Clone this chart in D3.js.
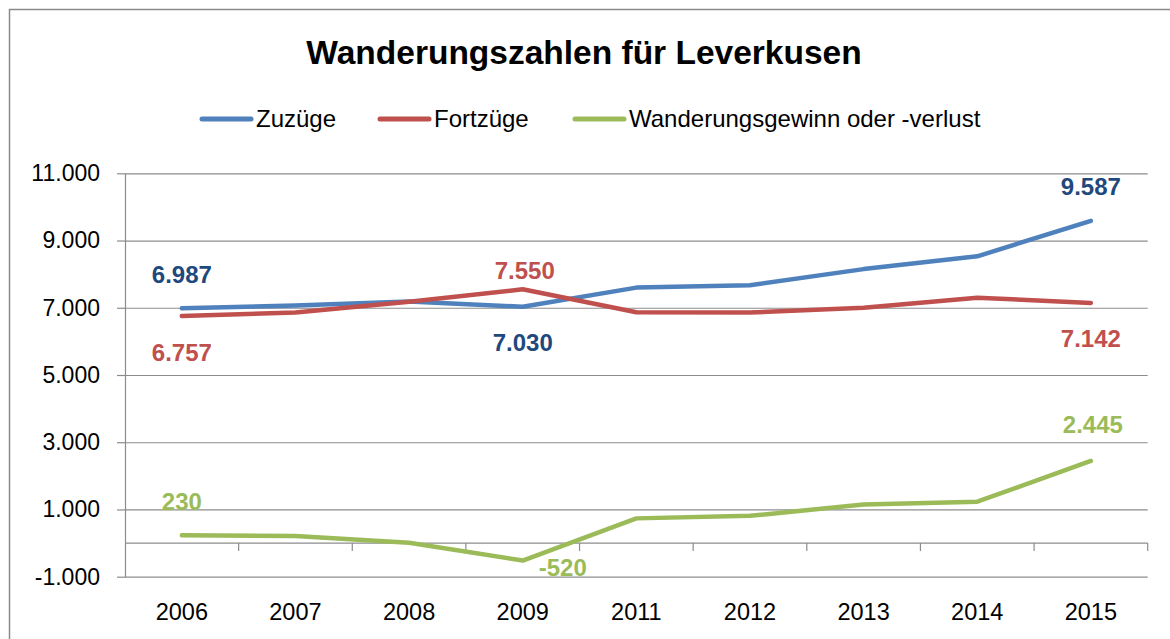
<!DOCTYPE html>
<html>
<head>
<meta charset="utf-8">
<script src="https://cdn.jsdelivr.net/npm/d3@7"></script>
<style>
  body { margin: 0; background: #fff; }
  svg { display: block; font-family: "Liberation Sans", Arial, sans-serif; }
</style>
</head>
<body>
<svg id="canvas"></svg>
<script>
const width = 1170;
const height = 639;

// Werte
const years = ['2006', '2007', '2008', '2009', '2011', '2012', '2013', '2014', '2015'];
const zuzuege = [6987, 7070, 7190, 7030, 7600, 7670, 8150, 8530, 9587];
const fortzuege = [6757, 6860, 7180, 7550, 6865, 6860, 7000, 7300, 7142];
const saldo = [230, 210, 10, -520, 735, 810, 1150, 1230, 2445];
const yTicks = [-1000, 1000, 3000, 5000, 7000, 9000, 11000];
const seriesNames = ['Zuzüge', 'Fortzüge', 'Wanderungsgewinn oder -verlust'];

const lineColors = ['#4F81BD', '#C0504D', '#9BBB59'];
const labelColors = ['#1F497D', '#C0504D', '#9BBB59'];

const de = d3.formatLocale({ decimal: ',', thousands: '.', grouping: [3], currency: ['', ' €'], minus: '-' });
const fmt = de.format(',d');

const svg = d3.select('#canvas').attr('width', width).attr('height', height);

// outer frame
svg.append('rect')
  .attr('x', 9.5).attr('y', 9.5)
  .attr('width', 1300).attr('height', 800)
  .attr('fill', 'none')
  .attr('stroke', '#8a8a8a')
  .attr('stroke-width', 1.5);

const left = 125;
const right = 1147.7;
const x = d3.scaleBand().domain(years).range([left, right]);
const y = d3.scaleLinear().domain([-1000, 11000]).range([576.7, 173.3]);
const cx = (d) => x(d) + x.bandwidth() / 2;

// gridlines
svg.append('g')
  .attr('transform', `translate(${left},0)`)
  .call(d3.axisLeft(y).tickValues(yTicks).tickSize(-(right - left)).tickFormat(''))
  .call((g) => g.select('.domain').remove())
  .call((g) => g.selectAll('line').attr('stroke', '#8c8c8c').attr('stroke-width', 1.2));

// y axis with labels
svg.append('g')
  .attr('transform', `translate(${left},0)`)
  .call(d3.axisLeft(y).tickValues(yTicks).tickSize(8).tickSizeOuter(0).tickPadding(17).tickFormat(fmt))
  .call((g) => g.select('.domain').attr('stroke', '#8c8c8c').attr('stroke-width', 1.2))
  .call((g) => g.selectAll('line').attr('stroke', '#8c8c8c').attr('stroke-width', 1.2))
  .call((g) => g.selectAll('text').attr('font-size', 23).attr('fill', '#000')
    .attr('font-family', '"Liberation Sans", Arial, sans-serif'));

// category axis at zero
const zeroY = y(0);
svg.append('line')
  .attr('x1', left).attr('x2', right)
  .attr('y1', zeroY).attr('y2', zeroY)
  .attr('stroke', '#8c8c8c').attr('stroke-width', 1.2);

const bounds = years.map((d) => x(d)).concat([right]);
svg.append('g').selectAll('line')
  .data(bounds.slice(1))
  .enter()
  .append('line')
  .attr('x1', (d) => d).attr('x2', (d) => d)
  .attr('y1', zeroY).attr('y2', zeroY + 8)
  .attr('stroke', '#8c8c8c').attr('stroke-width', 1.2);

// category labels below the plot
svg.append('g').selectAll('text')
  .data(years)
  .enter()
  .append('text')
  .attr('x', (d) => cx(d))
  .attr('y', 620)
  .attr('text-anchor', 'middle')
  .attr('font-size', 23.5)
  .text((d) => d);

// lines
const allSeries = [zuzuege, fortzuege, saldo];
const line = d3.line()
  .x((d, i) => cx(years[i]))
  .y((d) => y(d));

svg.append('g').selectAll('path')
  .data(allSeries)
  .enter()
  .append('path')
  .attr('d', (d) => line(d))
  .attr('fill', 'none')
  .attr('stroke', (d, i) => lineColors[i])
  .attr('stroke-width', 4.5)
  .attr('stroke-linejoin', 'round')
  .attr('stroke-linecap', 'round');

// data labels (only the ones shown in the original)
const labelSpots = [
  { s: 0, i: 0, dx: 0, dy: -34 },
  { s: 1, i: 0, dx: 0, dy: 36 },
  { s: 1, i: 3, dx: 2, dy: -19 },
  { s: 0, i: 3, dx: 0, dy: 36 },
  { s: 0, i: 8, dx: 0, dy: -34 },
  { s: 1, i: 8, dx: 0, dy: 35 },
  { s: 2, i: 0, dx: 0, dy: -34 },
  { s: 2, i: 3, dx: 40, dy: 7 },
  { s: 2, i: 8, dx: 2, dy: -37 },
];

svg.append('g').selectAll('text')
  .data(labelSpots)
  .enter()
  .append('text')
  .attr('x', (d) => cx(years[d.i]) + d.dx)
  .attr('y', (d) => y(allSeries[d.s][d.i]) + d.dy)
  .attr('dy', '0.36em')
  .attr('text-anchor', 'middle')
  .attr('font-size', 24)
  .attr('font-weight', 'bold')
  .attr('fill', (d) => labelColors[d.s])
  .text((d) => fmt(allSeries[d.s][d.i]));

// title
svg.append('text')
  .attr('x', 584)
  .attr('y', 64)
  .attr('text-anchor', 'middle')
  .attr('font-size', 33.5)
  .attr('font-weight', 'bold')
  .text('Wanderungszahlen für Leverkusen');

// legend
const legendX = [200, 378, 573];
const legend = svg.append('g');
seriesNames.forEach((name, i) => {
  legend.append('line')
    .attr('x1', legendX[i] + 2).attr('x2', legendX[i] + 51)
    .attr('y1', 119).attr('y2', 119)
    .attr('stroke', lineColors[i])
    .attr('stroke-width', 5)
    .attr('stroke-linecap', 'round');
  legend.append('text')
    .attr('x', legendX[i] + 56)
    .attr('y', 127)
    .attr('font-size', 24)
    .text(name);
});
</script>
</body>
</html>
